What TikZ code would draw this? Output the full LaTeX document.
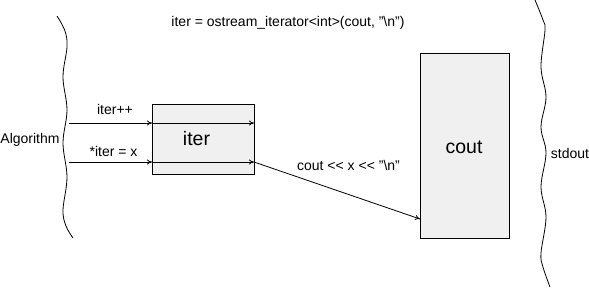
\documentclass[tikz,border=0pt]{standalone}
\usepackage{fontspec}
\setmainfont{Liberation Sans}
\usetikzlibrary{arrows.meta}
\definecolor{boxfill}{RGB}{240,240,240}
\begin{document}
\begin{tikzpicture}[x=1pt,y=-1pt,
  every node/.style={inner sep=0pt,outer sep=0pt},
  arr/.style={line width=0.8pt,-{To[length=5pt,width=5pt]}},
  wave/.style={line width=0.8pt},
  boxst/.style={draw,line width=0.8pt,fill=boxfill,rectangle},
  small/.style={font=\fontsize{14}{16}\selectfont,anchor=base},
  big/.style={font=\fontsize{19.5}{22}\selectfont,anchor=base}]
\useasboundingbox (0,0) rectangle (589,287);
% boxes
\node[boxst,minimum width=102pt,minimum height=70pt] (iterbox) at (203,139) {};
\node[boxst,minimum width=89pt,minimum height=185pt] (coutbox) at (464.5,145.5) {};
% labels
\node[small] (title) at (288,26) {iter = ostream\_iterator<int>(cout, "\textbackslash n")};
\node[small] (alg) at (30,143) {Algorithm};
\node[small] (inc) at (115,114) {iter++};
\node[small] (asg) at (113.5,156) {*iter = x};
\node[big] (iterlbl) at (196.5,145) {iter};
\node[big] (coutlbl) at (464,153) {cout};
\node[small] (outlbl) at (348.5,170) {cout <{}< x <{}< "\textbackslash n"};
\node[small] (stdout) at (570,158) {stdout};
% wavy boundaries
\draw[wave] plot[smooth,tension=0.6] coordinates {(57,16) (65,31) (67,47) (63,77) (67,110) (63,143) (67,177) (63,210) (66,226) (73,238)};
\draw[wave] plot[smooth,tension=0.6] coordinates {(535,0) (543,20) (545,30) (541,67) (546,97) (541,127) (546,153) (541,187) (546,217) (541,253) (543,267) (550,287)};
% connectors
\coordinate (s1) at (69,123);
\coordinate (s2) at (69,162);
\draw[arr] (s1) -- (s1 -| iterbox.west);
\draw[arr] (s1 -| iterbox.west) -- (s1 -| iterbox.east);
\draw[arr] (s2) -- (s2 -| iterbox.west);
\draw[arr] (s2 -| iterbox.west) -- (s2 -| iterbox.east);
\draw[arr] (s2 -| iterbox.east) -- (coutbox.west |- 0,219);
\end{tikzpicture}
\end{document}
